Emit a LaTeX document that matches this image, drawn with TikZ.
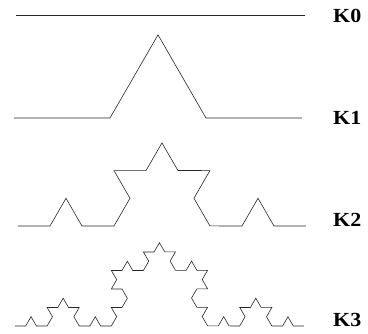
\documentclass[tikz,border=0pt]{standalone}
\usepackage{fontspec}
\setmainfont{Liberation Serif}
\usetikzlibrary{decorations.fractals}
\tikzset{
  kochln/.style={line width=0.6pt, line join=miter, black!85},
  stagelbl/.style={anchor=west, inner sep=0pt, xscale=1.1, transform shape,
    font=\fontsize{20}{20}\selectfont\bfseries},
}

\begin{document}
\begin{tikzpicture}[x=1pt,y=1pt]
  \useasboundingbox (0,0) rectangle (368,334);
  % end points of the four stages
  \coordinate (k0a) at (16,319);  \coordinate (k0b) at (305,319);
  \coordinate (k1a) at (14,216);  \coordinate (k1b) at (302,216);
  \coordinate (k2a) at (18,108);  \coordinate (k2b) at (306,108);
  \coordinate (k3a) at (15,8);    \coordinate (k3b) at (304,8);
  % the curves
  \draw[kochln] (k0a) -- (k0b);
  \draw[kochln, decoration=Koch snowflake] decorate{(k1a) -- (k1b)};
  \draw[kochln, decoration=Koch snowflake] decorate{decorate{(k2a) -- (k2b)}};
  \draw[kochln, decoration=Koch snowflake]
    decorate{decorate{decorate{(k3a) -- (k3b)}}};
  % labels
  \node[stagelbl] (lbl0) at (333,318) {K0};
  \node[stagelbl] (lbl1) at (333,216) {K1};
  \node[stagelbl] (lbl2) at (333,114) {K2};
  \node[stagelbl] (lbl3) at (333,14) {K3};
\end{tikzpicture}
\end{document}
